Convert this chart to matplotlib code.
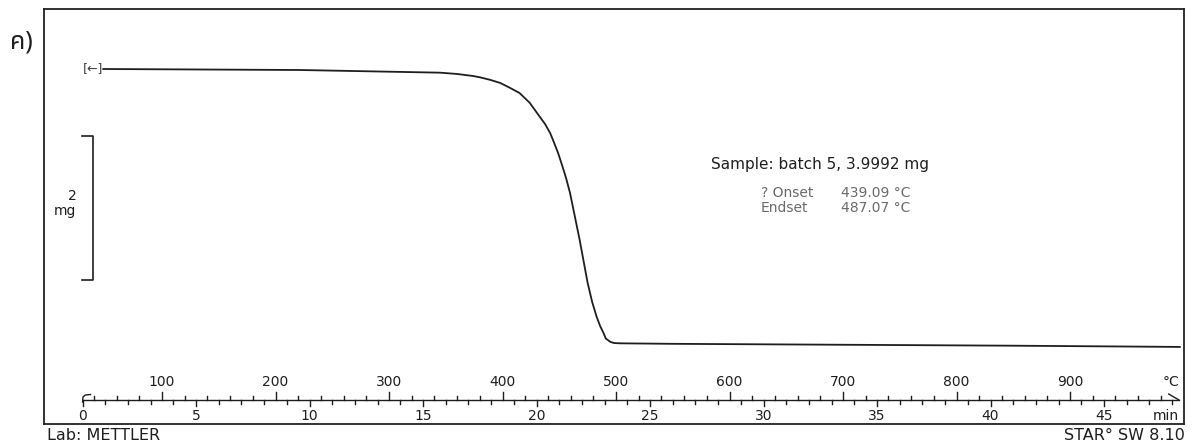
import matplotlib
matplotlib.use("Agg")
import matplotlib.pyplot as plt
import matplotlib.transforms as mtrans

# ---- data ----
temp_c = [48, 222, 292, 345, 360, 374, 380, 389, 398, 406, 415, 424, 433,
          437.5, 442, 444.5, 449, 453, 456, 459.5, 468, 475, 479, 483, 486,
          489, 491, 495, 498.3, 503.5, 550, 700, 850, 997]
mass_mg = [4.000, 3.986, 3.965, 3.949, 3.931, 3.903, 3.885, 3.850, 3.806,
           3.743, 3.667, 3.53, 3.333, 3.236, 3.11, 3.014, 2.833, 2.639, 2.486,
           2.278, 1.625, 1.03, 0.764, 0.556, 0.431, 0.333, 0.257, 0.21, 0.194,
           0.19, 0.183, 0.170, 0.157, 0.14]
temp_labels = [100, 200, 300, 400, 500, 600, 700, 800, 900]
time_labels = [0, 5, 10, 15, 20, 25, 30, 35, 40, 45]
start_temp = 30.0      # °C at 0 min
heat_rate = 20.0       # °C/min
end_time = 48.3        # min
sample_text = "Sample: batch 5, 3.9992 mg"
result_names = ["? Onset", "Endset"]
result_values = ["439.09 °C", "487.07 °C"]

W, H = 1200, 444
fig = plt.figure(figsize=(W / 100, H / 100), dpi=100)
fig.patch.set_facecolor("white")

fx0, fx1, fy0, fy1 = 44, 1184, 9, 424
ax = fig.add_axes([fx0 / W, 1 - fy1 / H, (fx1 - fx0) / W, (fy1 - fy0) / H])
kx, bx = 1.135, 48.5
ky = 72.0
ax.set_xlim((fx0 - bx) / kx, (fx1 - bx) / kx)
ax.set_ylim(4.0 - (fy1 - 69) / ky, 4.0 - (fy0 - 69) / ky)
ax.set_xticks([])
ax.set_yticks([])
for s in ax.spines.values():
    s.set_linewidth(1.3)
    s.set_color("#222222")

font = "DejaVu Sans"
ink = "#1e1e1e"

def X(p):
    return (p - bx) / kx

def Y(p):
    return 4.0 - (p - 69) / ky

# TG curve
ax.plot(temp_c, mass_mg, color=ink, lw=1.3, solid_capstyle="round",
        solid_joinstyle="round")
ax.text(temp_c[0] + 0.5, mass_mg[0], "[←]", ha="right", va="center",
        fontsize=9, color="#444444", family="DejaVu Sans")

# mass scale bar (2 mg)
bar_top = Y(136)
ax.plot([X(82), X(92.7), X(92.7), X(82)], [bar_top, bar_top, bar_top - 2, bar_top - 2],
        color=ink, lw=1.2)
ax.text(X(76.5), Y(196), "2", ha="right", va="center",
        fontsize=10, family=font, color=ink)
ax.text(X(76.5), Y(211), "mg", ha="right", va="center",
        fontsize=10, family=font, color=ink)

# ruler (x in temperature data, y in axes fraction)
tr = mtrans.blended_transform_factory(ax.transData, ax.transAxes)
px = 1.0 / (fy1 - fy0)
base = (fy1 - 400) * px
t_end = start_temp + heat_rate * end_time
t0 = start_temp
ax.plot([t0 + 1.5, t_end], [base, base], color=ink, lw=1.0, transform=tr)
hx = [t0, t0 + 0.4, t0 + 2.5, t0 + 7]
hy = [base - 2 * px, base + 3 * px, base + 5 * px, base + 5.5 * px]
ax.plot(hx, hy, color=ink, lw=1.0, transform=tr)
ax.plot([t_end - 9, t_end], [base + 6 * px, base], color=ink, lw=1.0, transform=tr)

for T in range(40, int(t_end) + 1, 20):
    L = 8 if T % 100 == 0 else 4
    ax.plot([T, T], [base, base + L * px], color=ink, lw=1.0, transform=tr)
for m in range(0, int(end_time) + 1):
    T = start_temp + heat_rate * m
    L = 6 if m % 5 == 0 else 3.5
    ax.plot([T, T], [base, base - L * px], color=ink, lw=1.0, transform=tr)

for T in temp_labels:
    ax.text(T, (fy1 - 382) * px, str(T), ha="center", va="center",
            fontsize=10, family=font, color=ink, transform=tr)
for m in time_labels:
    T = start_temp + heat_rate * m
    ax.text(T, (fy1 - 416) * px, str(m), ha="center", va="center",
            fontsize=10, family=font, color=ink, transform=tr)
ax.text(t_end, (fy1 - 382) * px, "°C", ha="right", va="center",
        fontsize=10, family=font, color=ink, transform=tr)
ax.text(t_end, (fy1 - 416) * px, "min", ha="right", va="center",
        fontsize=10, family=font, color=ink, transform=tr)

# annotations
ax.text(X(711), Y(165), sample_text, ha="left", va="center",
        fontsize=11, family=font, color=ink)
for i, (n, v) in enumerate(zip(result_names, result_values)):
    yy = Y(193 + 15 * i)
    ax.text(X(761), yy, n, ha="left", va="center",
            fontsize=10, family=font, color="#6a6a6a")
    ax.text(X(841), yy, v, ha="left", va="center",
            fontsize=10, family=font, color="#6a6a6a")

# figure texts
fig.text(47 / W, 1 - 443 / H, "Lab: METTLER", ha="left", va="bottom",
         fontsize=11.5, family=font, color=ink)
fig.text(1185 / W, 1 - 443 / H, "STAR° SW 8.10", ha="right", va="bottom",
         fontsize=11.5, family=font, color=ink)
fig.text(21 / W, 1 - 42 / H, "ค)", ha="center", va="center",
         fontsize=18, family=["Noto Sans Thai", "Loma", "Garuda", "Noto Sans", "DejaVu Sans"],
         color=ink)

fig.savefig("out.png", dpi=100, facecolor="white")
